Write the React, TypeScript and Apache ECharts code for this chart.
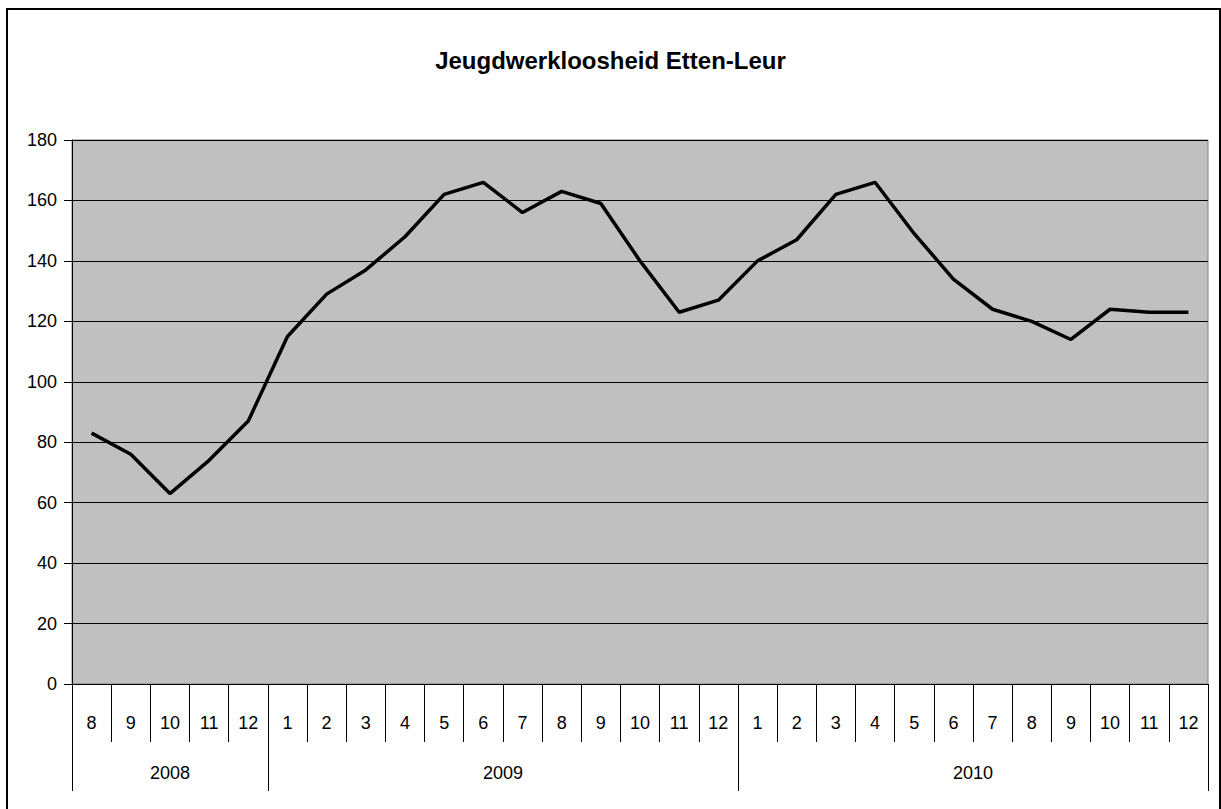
import React, { useEffect, useRef } from "react";
import * as echarts from "echarts";

const title = "Jeugdwerkloosheid Etten-Leur";
const years = ["2008", "2009", "2010"];
const monthsByYear = [
  ["8", "9", "10", "11", "12"],
  ["1", "2", "3", "4", "5", "6", "7", "8", "9", "10", "11", "12"],
  ["1", "2", "3", "4", "5", "6", "7", "8", "9", "10", "11", "12"],
];
const values = [
  83, 76, 63, 74, 87,
  115, 129, 137, 148, 162, 166, 156, 163, 159, 140, 123, 127,
  140, 147, 162, 166, 149, 134, 124, 120, 114, 124, 123, 123,
];
const yTicks = { min: 0, max: 180, interval: 20 };

const FONT = "'Liberation Sans', Arial, sans-serif";

export default function App() {
  const ref = useRef<HTMLDivElement>(null);
  useEffect(() => {
    if (!ref.current) return;
    const chart = echarts.init(ref.current, null, { renderer: "svg" });
    const months = monthsByYear.flat();
    const boundaries: number[] = [0];
    const centers: number[] = [];
    monthsByYear.forEach((m) => {
      const start = boundaries[boundaries.length - 1];
      centers.push(start + m.length / 2);
      boundaries.push(start + m.length);
    });
    chart.setOption({
      animation: false,
      backgroundColor: "#ffffff",
      textStyle: { fontFamily: FONT },
      title: {
        text: title,
        left: "center",
        top: 43,
        textStyle: { fontFamily: FONT, fontSize: 24, fontWeight: "bold", color: "#000" },
      },
      graphic: [
        {
          type: "rect",
          shape: { x: 7, y: 9, width: 1213, height: 900 },
          style: { fill: "none", stroke: "#000", lineWidth: 2 },
          silent: true,
        },
      ],
      grid: {
        left: 72,
        top: 140,
        right: 13,
        bottom: 125,
        show: true,
        backgroundColor: "#C0C0C0",
        borderColor: "#808080",
        borderWidth: 1,
      },
      xAxis: [
        {
          type: "category",
          data: months,
          boundaryGap: true,
          position: "bottom",
          axisLine: { show: true, lineStyle: { color: "#000", width: 1 } },
          axisTick: { show: true, interval: 0, length: 58, lineStyle: { color: "#000" } },
          axisLabel: { interval: 0, margin: 30, fontSize: 18, color: "#000", fontFamily: FONT },
          splitLine: { show: false },
        },
        {
          type: "value",
          min: 0,
          max: months.length,
          position: "bottom",
          axisLine: { show: false },
          splitLine: { show: false },
          axisTick: {
            show: true,
            customValues: boundaries,
            length: 107,
            lineStyle: { color: "#000" },
          },
          axisLabel: {
            customValues: centers,
            formatter: (v: number) => years[centers.indexOf(v)] ?? "",
            margin: 80,
            fontSize: 18,
            color: "#000",
            fontFamily: FONT,
          },
        },
      ],
      yAxis: {
        type: "value",
        min: yTicks.min,
        max: yTicks.max,
        interval: yTicks.interval,
        axisLine: { show: true, lineStyle: { color: "#000" } },
        axisTick: { show: true, length: 8, lineStyle: { color: "#000" } },
        axisLabel: { margin: 15, fontSize: 18, color: "#000", fontFamily: FONT },
        splitLine: { show: true, lineStyle: { color: "#000", width: 1 } },
      },
      series: [
        {
          type: "line",
          data: values,
          xAxisIndex: 0,
          yAxisIndex: 0,
          showSymbol: false,
          symbol: "none",
          lineStyle: { color: "#000", width: 3.5 },
          z: 5,
        },
      ],
    });
    return () => chart.dispose();
  }, []);
  return (
    <div
      ref={ref}
      style={{ position: "fixed", left: 0, top: 0, width: 1221, height: 809, background: "#fff" }}
    />
  );
}
